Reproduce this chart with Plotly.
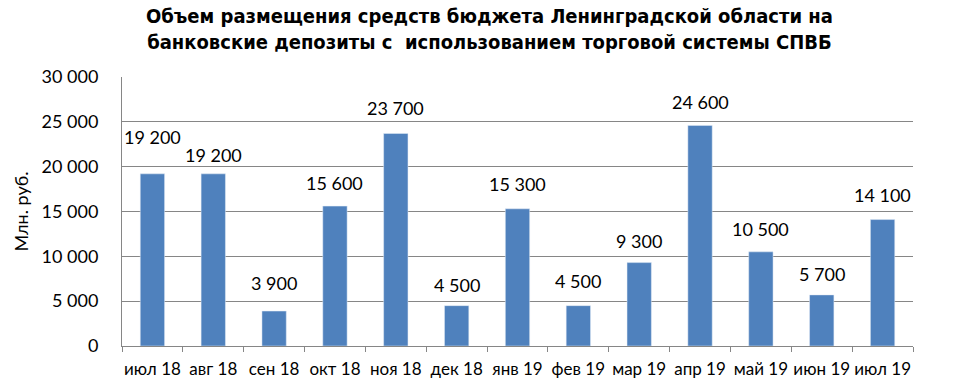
import plotly.graph_objects as go

categories = ["июл 18", "авг 18", "сен 18", "окт 18", "ноя 18", "дек 18", "янв 19",
              "фев 19", "мар 19", "апр 19", "май 19", "июн 19", "июл 19"]
values = [19200, 19200, 3900, 15600, 23700, 4500, 15300, 4500, 9300, 24600, 10500, 5700, 14100]
y_ticks = [0, 5000, 10000, 15000, 20000, 25000, 30000]

# pixel distance of each data label above its bar (manually placed in the original)
label_lift = [37, 19, 28, 23, 25, 21, 25, 25, 22, 23, 23, 21, 25]

def fmt(v):
    return f"{v:,}".replace(",", " ")

font_main = "Lato"
grid_col = "#868686"

fig = go.Figure(go.Bar(x=categories, y=values, marker_color="#4F81BD", width=0.4))

for c, v, lift in zip(categories, values, label_lift):
    fig.add_annotation(x=c, y=v, text=fmt(v), showarrow=False, yanchor="middle",
                       yshift=lift, font=dict(family=font_main, size=18, color="#000"))

fig.update_layout(
    width=973, height=391,
    margin=dict(l=122, r=60, t=77, b=45),
    paper_bgcolor="white", plot_bgcolor="white",
    separators=", ",
    showlegend=False,
    title=dict(
        text="Объем размещения средств бюджета Ленинградской области на<br>банковские депозиты с  использованием торговой системы СПВБ",
        x=0.503, xref="container", xanchor="center", y=0.94, yref="container", yanchor="top",
        font=dict(family="Liberation Sans Narrow, Arial Narrow, DejaVu Sans Condensed, sans-serif",
                  size=20, color="#000", weight="bold"),
    ),
    xaxis=dict(
        showgrid=False, showline=True, linecolor=grid_col, linewidth=1,
        ticks="outside", tickson="boundaries", ticklen=5, tickcolor=grid_col,
        tickangle=0, automargin=False, ticklabelstandoff=8,
        tickfont=dict(family=font_main, size=17, color="#000"),
        range=[-0.5, 12.5],
    ),
    yaxis=dict(
        range=[0, 30000], tickvals=y_ticks, ticktext=[fmt(t) for t in y_ticks],
        showgrid=True, gridcolor=grid_col, gridwidth=1,
        showline=True, linecolor=grid_col, linewidth=1, zeroline=False,
        ticks="", ticklabelstandoff=19, automargin=False,
        tickfont=dict(family=font_main, size=18, color="#000"),
        title=dict(text="Млн. руб.", standoff=8,
                   font=dict(family=font_main, size=18, color="#000")),
    ),
)

fig.write_html("out.html", config={"displayModeBar": False},
               post_script="document.body.style.margin='0';")
